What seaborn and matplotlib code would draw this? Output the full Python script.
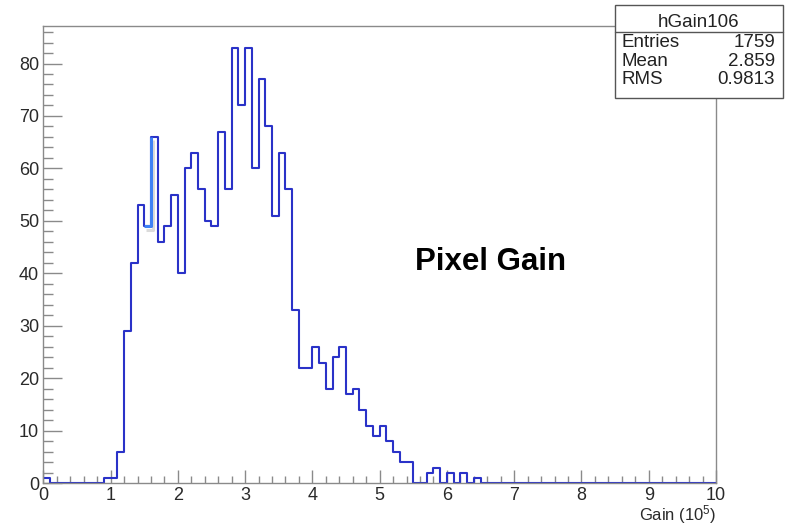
import numpy as np
import pandas as pd
import matplotlib
matplotlib.use("Agg")
import matplotlib.pyplot as plt
import matplotlib.patheffects as pe
from matplotlib.patches import Rectangle
from matplotlib.lines import Line2D
from matplotlib.ticker import MultipleLocator
import seaborn as sns

# Histogram binning: 100 bins of width 0.1 on [0, 10]
bin_lo = 0.0
bin_hi = 10.0
n_bins = 100

# Non-empty bins (bin index -> entries)
filled_bins = [0, 9, 10, 11, 12, 13, 14, 15, 16, 17, 18, 19, 20,
               21, 22, 23, 24, 25, 26, 27, 28, 29, 30, 31, 32, 33, 34,
               35, 36, 37, 38, 39, 40, 41, 42, 43, 44, 45, 46, 47, 48,
               49, 50, 51, 52, 53, 54, 57, 58, 60, 62, 64]
filled_counts = [1, 1, 1, 6, 29, 42, 53, 49, 66, 46, 49, 55, 40,
                 60, 63, 56, 50, 49, 67, 56, 83, 72, 83, 60, 77, 68, 51,
                 63, 56, 33, 22, 22, 26, 23, 18, 24, 26, 17, 18, 14, 11,
                 9, 11, 8, 6, 4, 4, 2, 3, 2, 2, 1]

hist_name = "hGain106"
stat_names = ["Entries", "Mean", "RMS"]
stat_values = ["1759", "2.859", "0.9813"]
x_label = "Gain (10$^{5}$)"
title_text = "Pixel Gain"
x_ticks = list(range(0, 11))
y_ticks = list(range(0, 90, 10))

edges = np.linspace(bin_lo, bin_hi, n_bins + 1)
centers = 0.5 * (edges[:-1] + edges[1:])
counts = np.zeros(n_bins)
counts[filled_bins] = filled_counts
df = pd.DataFrame({"gain": centers, "entries": counts})

sns.set_theme(style="white")
plt.rcParams["font.family"] = ["Liberation Sans", "DejaVu Sans"]
plt.rcParams["mathtext.default"] = "regular"

fig = plt.figure(figsize=(7.88, 5.25), dpi=100)
ax = fig.add_axes([0.055, 0.0794, 0.8536, 0.8711])

line_blue = "#2a32c8"
sns.histplot(data=df, x="gain", weights="entries", bins=n_bins,
             binrange=(bin_lo, bin_hi), element="step", fill=False,
             color=line_blue, linewidth=1.5, ax=ax)

# highlighted step around bins 15/16
hl = Line2D([edges[15], edges[16], edges[16]],
            [counts[15], counts[15], counts[16]],
            color="#3f82f5", linewidth=2.2, solid_capstyle="butt",
            path_effects=[pe.SimpleLineShadow(offset=(1.5, -2.5), shadow_color="#999999", alpha=0.35),
                          pe.Normal()])
ax.add_line(hl)

ax.set_xlim(bin_lo, bin_hi)
ax.set_ylim(0, counts.max() * 1.05)
ax.set_xticks(x_ticks)
ax.set_yticks(y_ticks)
ax.xaxis.set_minor_locator(MultipleLocator(0.2))
ax.yaxis.set_minor_locator(MultipleLocator(2))

axis_grey = "#8a8a8a"
for s in ax.spines.values():
    s.set_color(axis_grey)
    s.set_linewidth(1.0)
    s.set_visible(True)

ax.tick_params(axis="x", which="major", direction="in", length=9.5, width=1.0,
               color=axis_grey, labelsize=13, labelcolor="#2a2a2a", pad=3)
ax.tick_params(axis="x", which="minor", direction="in", length=5, width=1.0,
               color=axis_grey)
ax.tick_params(axis="y", which="major", direction="in", length=14, width=1.0,
               color=axis_grey, labelsize=13, labelcolor="#2a2a2a", pad=3)
ax.tick_params(axis="y", which="minor", direction="in", length=7, width=1.0,
               color=axis_grey)
ax.tick_params(bottom=True, left=True, top=False, right=False, which="both")

ax.set_ylabel("")
ax.set_xlabel("")
fig.text(0.9086, 0.008, x_label, ha="right", va="baseline", fontsize=12,
         color="#2a2a2a")

ax.text(5.53, 40.7, title_text, fontsize=22.5, fontweight="bold", color="black")

# statistics box
bx0, bx1 = 0.7805, 0.9937
by0, by1 = 0.8128, 0.9905
sep_y = 0.939
box = Rectangle((bx0, by0), bx1 - bx0, by1 - by0, transform=fig.transFigure,
                facecolor="white", edgecolor="#555555", linewidth=1.0, zorder=5)
fig.add_artist(box)
fig.add_artist(Line2D([bx0, bx1], [sep_y, sep_y], transform=fig.transFigure,
                      color="#555555", linewidth=1.0, zorder=6))
stat_fs = 13.5
fig.text((bx0 + bx1) / 2, 0.948, hist_name, ha="center", va="baseline",
         fontsize=stat_fs, color="#222222", zorder=7)
row_y = [0.911, 0.875, 0.840]
for name, val, yy in zip(stat_names, stat_values, row_y):
    fig.text(0.789, yy, name, ha="left", va="baseline", fontsize=stat_fs,
             color="#222222", zorder=7)
    fig.text(0.9835, yy, val, ha="right", va="baseline", fontsize=stat_fs,
             color="#222222", zorder=7)

fig.savefig("out.png", dpi=100)
